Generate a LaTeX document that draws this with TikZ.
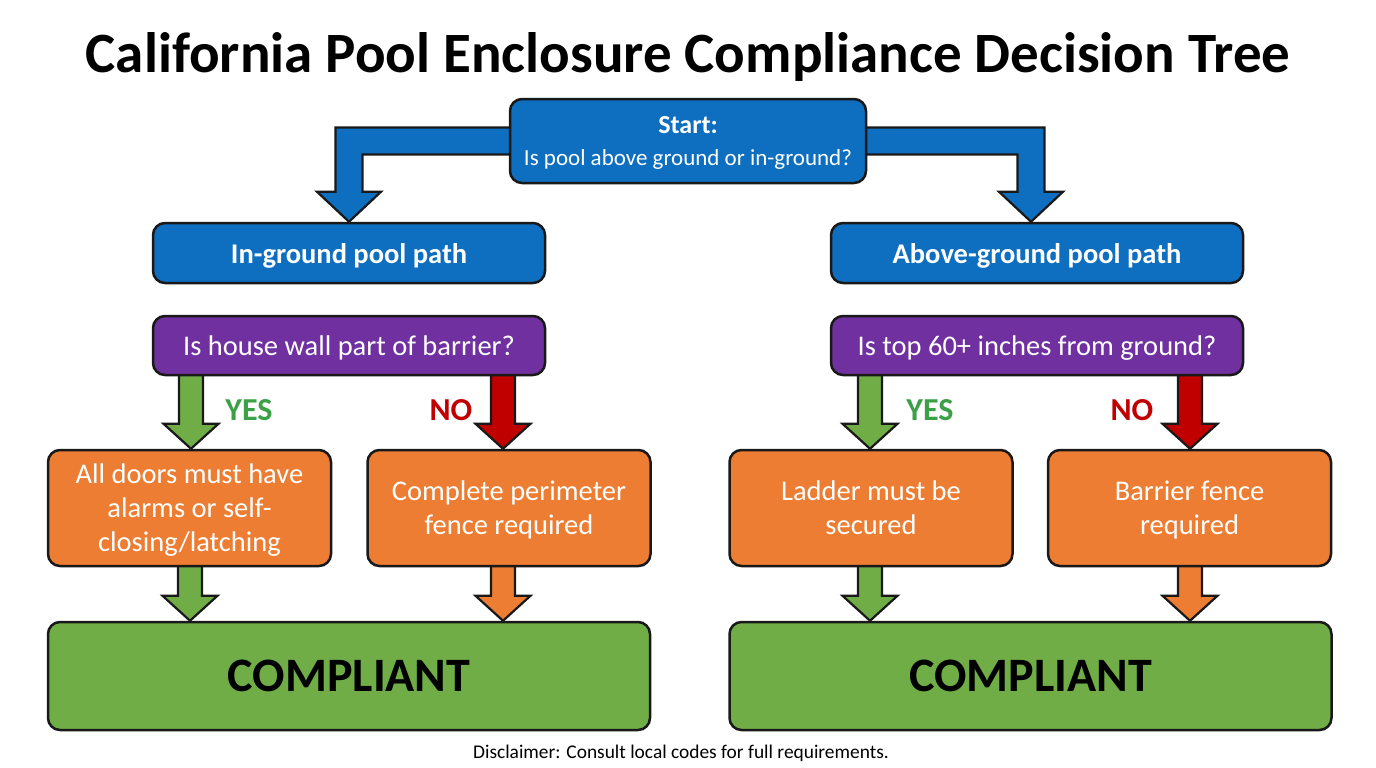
\documentclass[tikz,border=0pt]{standalone}
\usepackage{fontspec}
\setmainfont{Carlito}
\usetikzlibrary{calc,backgrounds}
\definecolor{cblue}{RGB}{14,110,192}
\definecolor{cpurple}{RGB}{112,48,160}
\definecolor{corange}{RGB}{236,125,50}
\definecolor{cgreen}{RGB}{112,173,71}
\definecolor{cred}{RGB}{192,0,0}
\definecolor{cyes}{RGB}{60,160,70}
\definecolor{cedge}{RGB}{25,25,25}
\tikzset{
  box/.style={draw=cedge, line width=2.5pt, rounded corners=12pt, align=center, text=white, inner sep=0pt, text depth=0pt},
  blockarrow/.style={draw=cedge, line width=2.2pt, line join=miter},
}
\newcommand\fs[1]{\fontsize{#1}{1.2\dimexpr #1pt\relax}\selectfont}
% straight block arrow: #1 from node, #2 to node, #3 xshift, #4 fill
\newcommand\downarrowblk[4]{%
  \path[blockarrow, fill=#4] let \p1=([xshift=#3]#2.north), \p2=(#1.south) in
    (\x1-12pt,\y2+4pt) -- (\x1+12pt,\y2+4pt) -- (\x1+12pt,\y1+25pt) -- (\x1+27.5pt,\y1+25pt)
    -- (\x1,\y1) -- (\x1-27.5pt,\y1+25pt) -- (\x1-12pt,\y1+25pt) -- cycle;}
\begin{document}
\begin{tikzpicture}[x=1pt,y=-1pt]
\useasboundingbox (0,0) rectangle (1376,768);

\node[font=\bfseries\fs{57}] (title) at (688,57) {California Pool Enclosure Compliance Decision Tree};

\node[box, fill=cblue, minimum width=356pt, minimum height=84pt, font=\fs{23}] (start) at (688,141)
  {{\bfseries\fs{26}Start:}\\[5pt]Is pool above ground or in-ground?};

\node[box, fill=cblue, minimum width=392pt, minimum height=60pt, font=\bfseries\fs{28.5}] (ig) at (349,253) {In-ground pool path};
\node[box, fill=cblue, minimum width=412pt, minimum height=60pt, font=\bfseries\fs{28.5}] (ab) at (1037,253) {Above-ground pool path};

\node[box, fill=cpurple, minimum width=392pt, minimum height=59pt, font=\fs{28.5}] (q1) at (349,345.5) {Is house wall part of barrier?};
\node[box, fill=cpurple, minimum width=412pt, minimum height=59pt, font=\fs{28.5}] (q2) at (1037,345.5) {Is top 60+ inches from ground?};

\tikzset{obox/.style={box, fill=corange, minimum width=283pt, minimum height=116pt, font=\fontsize{28.5}{34}\selectfont}}
\node[obox] (o1) at (189.5,508) {All doors must have\\alarms or self-\\closing/latching};
\node[obox] (o2) at (509,508) {Complete perimeter\\fence required};
\node[obox] (o3) at (871,508) {Ladder must be\\secured};
\node[obox] (o4) at (1189.5,508) {Barrier fence\\required};

\tikzset{cbox/.style={box, fill=cgreen, text=black, minimum width=602pt, minimum height=108pt, font=\bfseries\fs{48}}}
\node[cbox] (c1) at (349,676) {COMPLIANT};
\node[cbox] (c2) at (1030.5,676) {COMPLIANT};

\node[font=\bfseries\fs{32}, text=cyes] (yes1) at (249,410) {YES};
\node[font=\bfseries\fs{32}, text=cred] (no1) at (451,410) {NO};
\node[font=\bfseries\fs{32}, text=cyes] (yes2) at (930,410) {YES};
\node[font=\bfseries\fs{32}, text=cred] (no2) at (1132,410) {NO};

\node[font=\fs{19.4}] (disc) at (681,753) {Disclaimer: Consult local codes for full requirements.};

\begin{scope}[on background layer]
  \fill[white] (0,0) rectangle (1376,768);
  % bent arrows from start
  \path[blockarrow, fill=cblue] let \p1=(start.west), \p2=(ig.north) in
    (\x1+6pt,\y1+13.5pt) -- (\x2-13.5pt,\y1+13.5pt) -- (\x2-13.5pt,\y2+30pt) -- (\x2-32pt,\y2+30pt)
    -- (\x2,\y2) -- (\x2+32pt,\y2+30pt) -- (\x2+13.5pt,\y2+30pt) -- (\x2+13.5pt,\y1-13.5pt)
    -- (\x1+6pt,\y1-13.5pt) -- cycle;
  \path[blockarrow, fill=cblue] let \p1=(start.east), \p2=([xshift=-6pt]ab.north) in
    (\x1-6pt,\y1+13.5pt) -- (\x2+13.5pt,\y1+13.5pt) -- (\x2+13.5pt,\y2+30pt) -- (\x2+32pt,\y2+30pt)
    -- (\x2,\y2) -- (\x2-32pt,\y2+30pt) -- (\x2-13.5pt,\y2+30pt) -- (\x2-13.5pt,\y1-13.5pt)
    -- (\x1-6pt,\y1-13.5pt) -- cycle;
  % decision arrows
  \downarrowblk{q1}{o1}{1.5pt}{cgreen}
  \downarrowblk{q1}{o2}{-6pt}{cred}
  \downarrowblk{q2}{o3}{-1pt}{cgreen}
  \downarrowblk{q2}{o4}{0.5pt}{cred}
  % to compliant
  \downarrowblk{o1}{c1}{-159pt}{cgreen}
  \downarrowblk{o2}{c1}{154pt}{corange}
  \downarrowblk{o3}{c2}{-160.5pt}{cgreen}
  \downarrowblk{o4}{c2}{159.5pt}{corange}
\end{scope}
\end{tikzpicture}
\end{document}
